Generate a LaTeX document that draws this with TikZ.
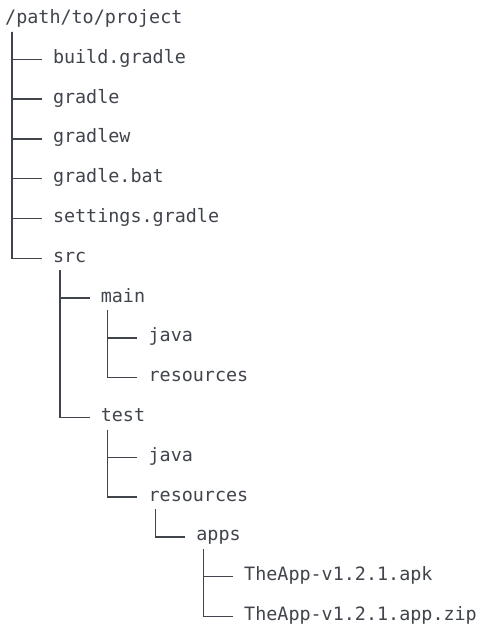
\documentclass[tikz,border=0pt]{standalone}
\usepackage{fontspec}
\setmonofont{DejaVu Sans Mono}
\definecolor{ink}{HTML}{40444C}
\begin{document}
\begin{tikzpicture}[x=1pt,y=-1pt,
  entry/.style={anchor=base west,inner sep=0pt,text height=8pt,text depth=0pt,
    font=\ttfamily\fontsize{18.4}{20}\selectfont,text=ink},
  branch/.style={draw=ink,line width=1.4pt}]
\useasboundingbox[fill=white] (0,0) rectangle (482,629);
% depth d -> x = 5 + 47.8 d ; row i -> baseline = 23.4 + 39.8 i
\node[entry] (root)  at (5,23.4)      {/path/to/project};
\node[entry] (build) at (52.8,63.2)   {build.gradle};
\node[entry] (gdir)  at (52.8,103.0)  {gradle};
\node[entry] (gw)    at (52.8,142.8)  {gradlew};
\node[entry] (gbat)  at (52.8,182.6)  {gradle.bat};
\node[entry] (sett)  at (52.8,222.4)  {settings.gradle};
\node[entry] (src)   at (52.8,262.2)  {src};
\node[entry] (main)  at (100.6,302.0) {main};
\node[entry] (mjava) at (148.4,341.8) {java};
\node[entry] (mres)  at (148.4,381.6) {resources};
\node[entry] (test)  at (100.6,421.4) {test};
\node[entry] (tjava) at (148.4,461.2) {java};
\node[entry] (tres)  at (148.4,501.0) {resources};
\node[entry] (apps)  at (196.2,540.8) {apps};
\node[entry] (apk)   at (244.0,580.6) {TheApp-v1.2.1.apk};
\node[entry] (zip)   at (244.0,620.4) {TheApp-v1.2.1.app.zip};
% tree branches: down from the parent, then across to the child
\foreach \p/\c in {root/build,root/gdir,root/gw,root/gbat,root/sett,root/src,
    src/main,src/test,main/mjava,main/mres,test/tjava,test/tres,
    tres/apps,apps/apk,apps/zip}
  \draw[branch] ([xshift=7pt,yshift=-8pt]\p.south west) |- ([xshift=-11pt]\c.west);
\end{tikzpicture}
\end{document}
